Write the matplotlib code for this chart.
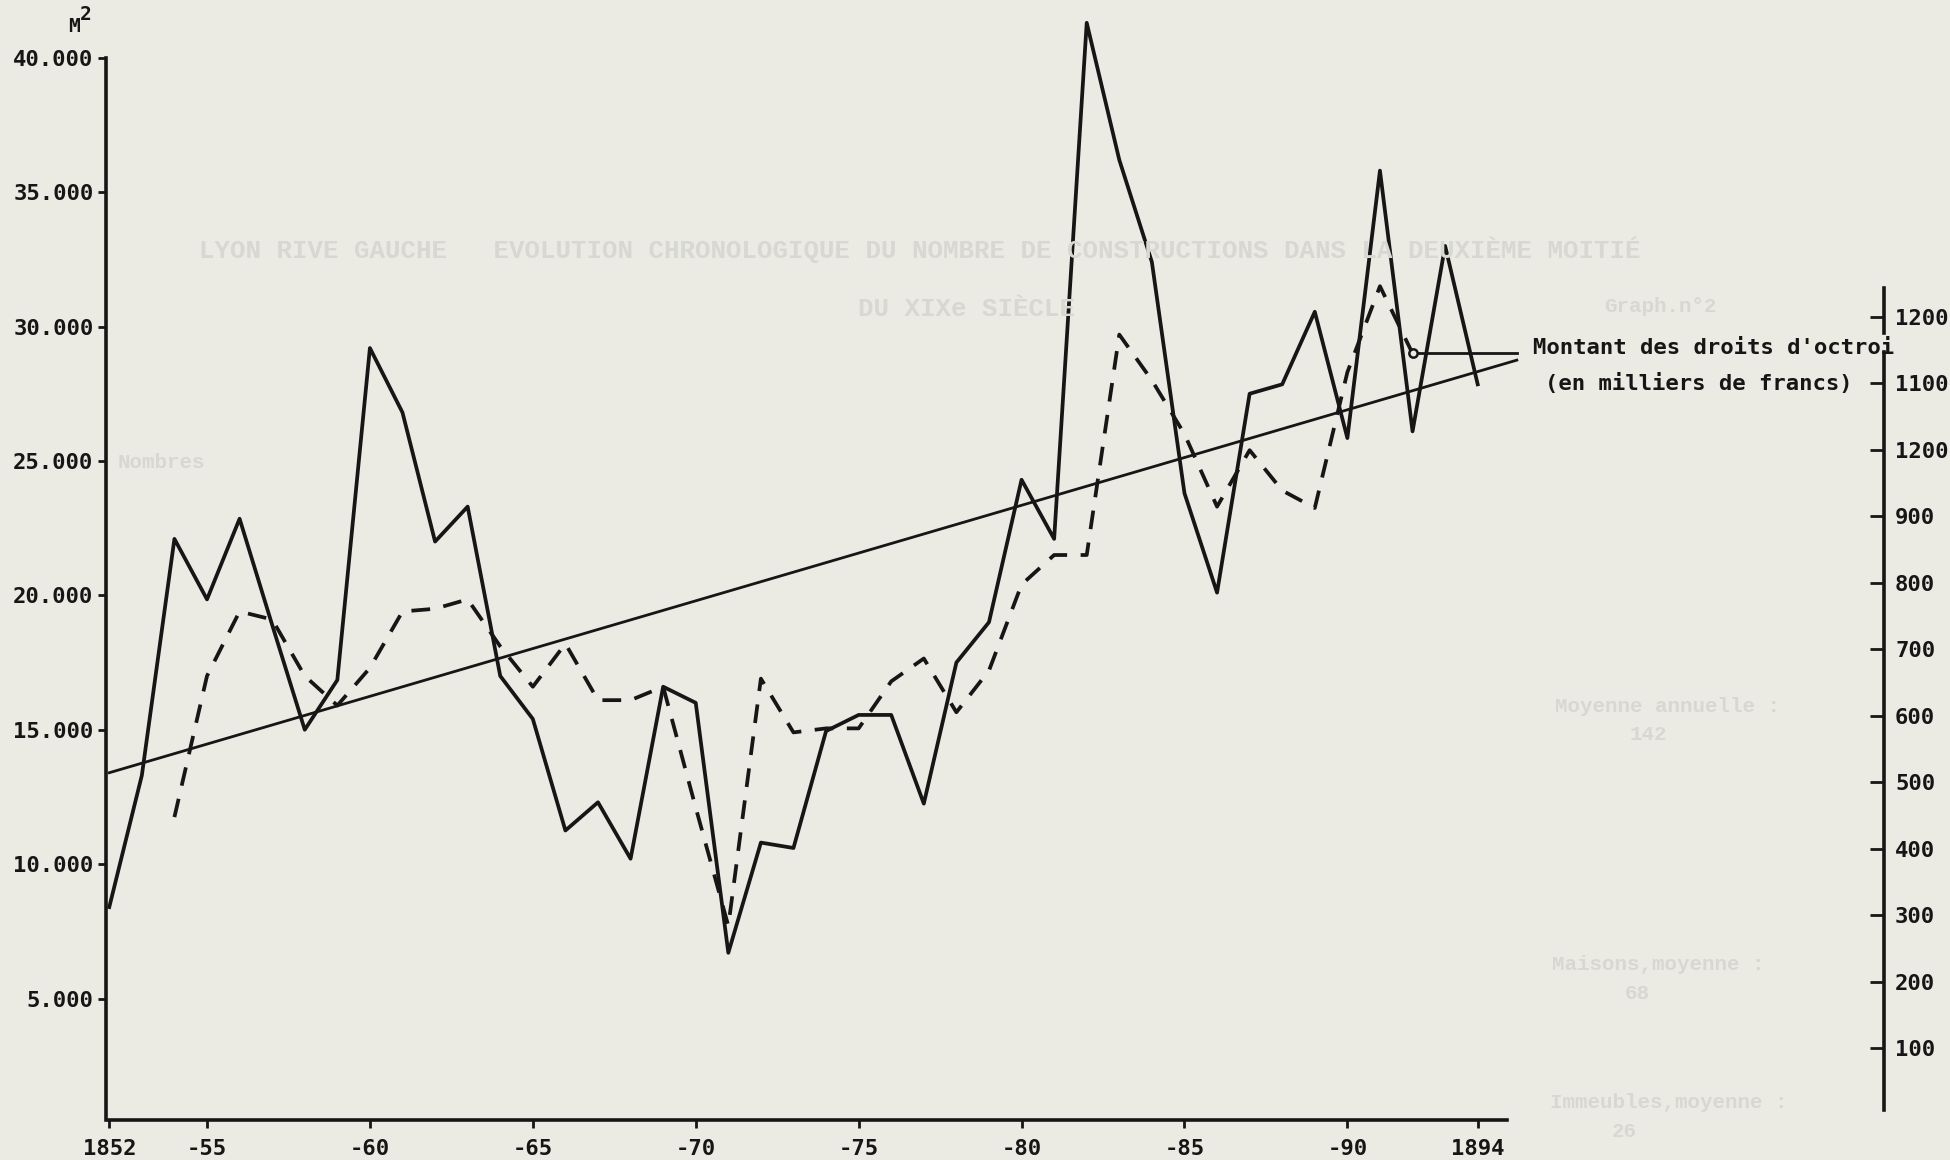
import numpy as np
import matplotlib
matplotlib.use("Agg")
import matplotlib.pyplot as plt

# ---------------- data ----------------
years = list(range(1852, 1895))
surface_m2 = [8400, 13300, 22100, 19850, 22850, 18900, 15000, 16850, 29200, 26800,
              22000, 23300, 17000, 15400, 11250, 12300, 10200, 16600, 16000, 6700,
              10800, 10600, 14950, 15550, 15550, 12250, 17500, 19000, 24300, 22100,
              41300, 36200, 32400, 23800, 20100, 27500, 27850, 30550, 25850, 35800,
              26100, 33000, 27850]

octroi_years = list(range(1854, 1893))
octroi_on_left_scale = [11750, 17000, 19400, 19100, 17000, 15900, 17300, 19400,
                        19500, 19850, 18100, 16600, 18200, 16100, 16100, 16600,
                        12100, 7700, 16900, 14900, 15050, 15050, 16800, 17650,
                        15650, 17200, 20400, 21500, 21500, 29700, 28000, 26000,
                        23300, 25400, 23900, 23250, 28300, 31500, 29000]

trend_years = [1852, 1895.2]
trend_values = [13400, 28750]

left_ticks = [5000, 10000, 15000, 20000, 25000, 30000, 35000, 40000]
left_labels = ["5.000", "10.000", "15.000", "20.000", "25.000", "30.000", "35.000", "40.000"]
x_ticks = [1852, 1855, 1860, 1865, 1870, 1875, 1880, 1885, 1890, 1894]
x_labels = ["1852", "-55", "-60", "-65", "-70", "-75", "-80", "-85", "-90", "1894"]
right_labels = ["1200", "1100", "1200", "900", "800", "700", "600", "500", "400", "300", "200", "100"]

legend_line1 = "Montant des droits d'octroi"
legend_line2 = "(en milliers de francs)"

# ---------------- style ----------------
W, H = 1950, 1160
bg = "#ebeae3"
ink = "#161616"
ghost = "#d8d8d3"
mono = "DejaVu Sans Mono"
fs = 16
fw = "bold"

fig = plt.figure(figsize=(W / 100, H / 100), dpi=100)
fig.patch.set_facecolor(bg)

# ---------------- faint show-through texts ----------------
gk = dict(color=ghost, family="Liberation Mono", fontweight="bold", zorder=0)
fig.text(199 / W, 1 - 258 / H,
         "LYON RIVE GAUCHE   EVOLUTION CHRONOLOGIQUE DU NOMBRE DE CONSTRUCTIONS DANS LA DEUXIÈME MOITIÉ",
         fontsize=18.5, **gk)
fig.text(858 / W, 1 - 316 / H, "DU XIXe SIÈCLE", fontsize=18.5, **gk)
fig.text(1604 / W, 1 - 312 / H, "Graph.n°2", fontsize=15, **gk)
fig.text(118 / W, 1 - 468 / H, "Nombres", fontsize=15, **gk)
fig.text(1555 / W, 1 - 712 / H, "Moyenne annuelle :", fontsize=15, **gk)
fig.text(1630 / W, 1 - 740 / H, "142", fontsize=15, **gk)
fig.text(1552 / W, 1 - 970 / H, "Maisons,moyenne :", fontsize=15, **gk)
fig.text(1625 / W, 1 - 999 / H, "68", fontsize=15, **gk)
fig.text(1550 / W, 1 - 1108 / H, "Immeubles,moyenne :", fontsize=15, **gk)
fig.text(1612 / W, 1 - 1137 / H, "26", fontsize=15, **gk)

# ---------------- main axes ----------------
x0_px, x1_px, ytop_px, ybot_px = 106, 1884, 4, 1120
ax = fig.add_axes([x0_px / W, 1 - ybot_px / H, (x1_px - x0_px) / W, (ybot_px - ytop_px) / H])
ax.set_facecolor("none")
ax.set_xlim(1851.9, 1906.47)
ax.set_ylim(480, 42000)

for s in ["top", "right"]:
    ax.spines[s].set_visible(False)
ax.spines["left"].set_bounds(480, 40000)
ax.spines["bottom"].set_bounds(1852, 1894.9)
for s in ["left", "bottom"]:
    ax.spines[s].set_linewidth(2.6)
    ax.spines[s].set_color(ink)

ax.set_yticks(left_ticks)
ax.set_yticklabels(left_labels)
ax.set_xticks(x_ticks)
ax.set_xticklabels(x_labels)
ax.tick_params(axis="y", direction="out", length=6, width=2, color=ink, pad=3,
               labelsize=fs, labelcolor=ink)
ax.tick_params(axis="x", direction="out", length=6, width=2, color=ink, pad=8,
               labelsize=fs, labelcolor=ink)
for lab in ax.get_xticklabels() + ax.get_yticklabels():
    lab.set_family(mono)
    lab.set_fontweight(fw)

# lines
ax.plot(trend_years, trend_values, color=ink, lw=2.0, clip_on=False, zorder=3)
ax.plot(years, surface_m2, color=ink, lw=2.7, clip_on=False, zorder=4)
ax.plot(octroi_years, octroi_on_left_scale, color=ink, lw=2.7,
        ls=(0, (5, 3.6)), clip_on=False, zorder=4)

# leader from end of octroi curve to its caption
lx, ly = octroi_years[-1], octroi_on_left_scale[-1]
ax.plot([lx, trend_years[-1]], [ly, ly], color=ink, lw=2.0, clip_on=False, zorder=3)
ax.plot([lx], [ly], "o", ms=6, mfc=bg, mec=ink, mew=1.8, clip_on=False, zorder=5)
ax.annotate(legend_line1, xy=(trend_years[-1], ly), xytext=(12, 4),
            textcoords="offset points", ha="left", va="center",
            fontsize=fs, family=mono, fontweight=fw, color=ink)
ax.annotate(legend_line2, xy=(trend_years[-1], ly), xytext=(20, -22),
            textcoords="offset points", ha="left", va="center",
            fontsize=fs, family=mono, fontweight=fw, color=ink)

# unit label
fig.text(68 / W, 1 - 32 / H, "M", fontsize=14, family=mono, fontweight=fw, color=ink)
fig.text(80 / W, 1 - 20 / H, "2", fontsize=14, family=mono, fontweight=fw, color=ink)

# ---------------- right-hand scale ----------------
axr = fig.add_axes([0, 0, x1_px / W, 1])
axr.patch.set_visible(False)
axr.set_xlim(0, 1)
axr.set_ylim(H, 0)
for s in ["left", "top", "bottom"]:
    axr.spines[s].set_visible(False)
axr.spines["right"].set_bounds(352, 1110)
axr.spines["right"].set_linewidth(2.6)
axr.spines["right"].set_color(ink)
axr.plot([1, 1], [288, 333], color=ink, lw=2.6, clip_on=False)
axr.set_xticks([])
axr.yaxis.tick_right()
axr.set_yticks(np.linspace(317, 1048, len(right_labels)))
axr.set_yticklabels(right_labels)
axr.tick_params(axis="y", direction="in", length=10, width=2, color=ink, pad=8,
                labelsize=fs, labelcolor=ink)
for lab in axr.get_yticklabels():
    lab.set_family(mono)
    lab.set_fontweight(fw)

fig.savefig("out.png", dpi=100, facecolor=bg)
